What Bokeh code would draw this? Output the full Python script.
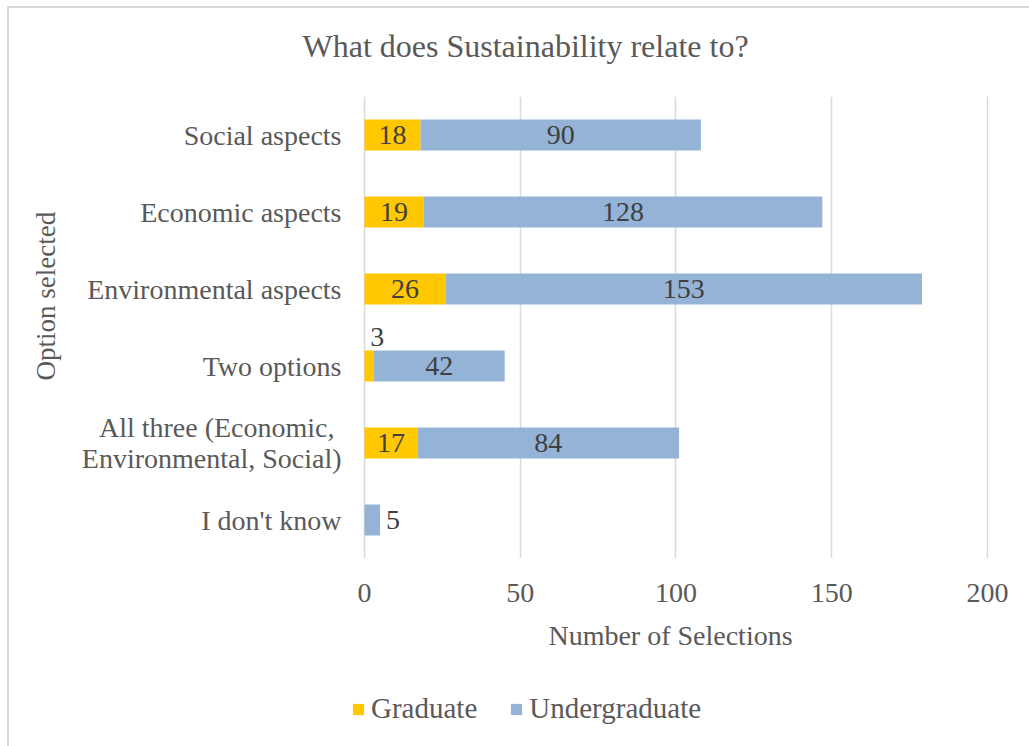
from bokeh.core.properties import value
from bokeh.embed import file_html
from bokeh.layouts import column
from bokeh.models import ColumnDataSource, FactorRange, Legend, Title
from bokeh.plotting import figure
from bokeh.resources import INLINE

# Survey answers, listed top to bottom as shown
categories = [
    "Social aspects",
    "Economic aspects",
    "Environmental aspects",
    "Two options",
    "All three (Economic, \nEnvironmental, Social)",
    "I don't know",
]
graduate = [18, 19, 26, 3, 17, 0]
undergraduate = [90, 128, 153, 42, 84, 5]
series = ["Graduate", "Undergraduate"]
colors = ["#FFC800", "#95B3D7"]
x_ticks = [0, 50, 100, 150, 200]

FONT = "Liberation Serif"
GREY = "#595959"
PX_PER_UNIT = 623 / 200  # horizontal scale of the plot area

source = ColumnDataSource(dict(
    cat=categories,
    Graduate=graduate,
    Undergraduate=undergraduate,
))

# the plot area starts a little left of zero so the legend below can line up with it
p = figure(
    width=1020, height=670,
    y_range=FactorRange(factors=list(reversed(categories)), range_padding=0),
    x_range=(-12 / PX_PER_UNIT, 200.35),
    output_backend="svg", toolbar_location=None,
    min_border_left=343, min_border_right=41,
    min_border_top=88, min_border_bottom=120,
)
p.outline_line_color = None
p.background_fill_color = "white"
p.border_fill_color = "white"

# empty band between the plot area and the title
p.add_layout(Title(text=" ", text_font_size="28px", standoff=0), "above")

# chart title
p.title.text = "What does Sustainability relate to?"
p.title.text_font = FONT
p.title.text_font_size = "32px"
p.title.text_font_style = "normal"
p.title.text_color = GREY
p.title.align = "left"
p.title.offset = -50
p.title.standoff = 0

p.hbar_stack(
    series, y="cat", height=0.4, color=colors, line_color=None,
    source=source,
)

# grid
p.ygrid.grid_line_color = None
p.xgrid.grid_line_color = "#D9D9D9"
p.xgrid.grid_line_width = 1.5
p.xgrid.ticker = x_ticks

# x axis
p.xaxis.ticker = x_ticks
p.xaxis.axis_line_color = None
p.xaxis.major_tick_line_color = None
p.xaxis.minor_tick_line_color = None
p.xaxis.major_tick_out = 0
p.xaxis.major_label_standoff = 25
p.xaxis.major_label_text_font = FONT
p.xaxis.major_label_text_font_size = "28px"
p.xaxis.major_label_text_color = GREY
p.xaxis.axis_label = "Number of Selections"
p.xaxis.axis_label_text_font = FONT
p.xaxis.axis_label_text_font_size = "28px"
p.xaxis.axis_label_text_font_style = "normal"
p.xaxis.axis_label_text_color = GREY
p.xaxis.axis_label_standoff = 15

# y axis
p.yaxis.axis_line_color = None
p.yaxis.major_tick_line_color = None
p.yaxis.major_tick_out = 0
p.yaxis.major_label_standoff = 11
p.yaxis.major_label_text_font = FONT
p.yaxis.major_label_text_font_size = "28px"
p.yaxis.major_label_text_color = GREY
p.yaxis.major_label_text_line_height = 0.98

# y axis title, set a little above the centre of the plot area
p.add_layout(Title(
    text="Option selected", align="left", offset=178, standoff=36,
    text_font=FONT, text_font_size="27px", text_font_style="normal",
    text_color=GREY,
), "left")

# value labels on the bars
lab_x, lab_y, lab_t, lab_dx, lab_dy, lab_align = [], [], [], [], [], []
for cat, g, u in zip(categories, graduate, undergraduate):
    for start, val in ((0, g), (g, u)):
        if val == 0:
            continue
        width_px = val * PX_PER_UNIT
        if width_px >= 30:
            lab_x.append(start + val / 2); lab_dx.append(0); lab_dy.append(0); lab_align.append("center")
        elif start == 0 and u > 0 and g > 0:
            lab_x.append(start + val / 2); lab_dx.append(8); lab_dy.append(-29); lab_align.append("center")
        else:
            lab_x.append(start + val); lab_dx.append(6); lab_dy.append(0); lab_align.append("left")
        lab_y.append(cat)
        lab_t.append(str(val))

lab_src = ColumnDataSource(dict(x=lab_x, y=lab_y, t=lab_t, dx=lab_dx, dy=lab_dy, al=lab_align))
p.text(
    x="x", y="y", text="t", x_offset="dx", y_offset="dy", text_align="al",
    text_baseline="middle", text_font=value(FONT), text_font_size="28px",
    text_color="#404040", source=lab_src,
)

# legend strip under the chart; its swatch bars sit outside the visible range
lg = figure(
    width=1020, height=68, x_range=(0, 1), y_range=(0, 1),
    output_backend="svg", toolbar_location=None,
    x_axis_location=None, y_axis_location=None,
    min_border=0,
)
lg.outline_line_color = None
lg.grid.grid_line_color = None
swatches = [
    lg.hbar(y=[-5], right=[1], height=0.5, color=c, line_color=None)
    for c in colors
]
legend = Legend(
    items=[(name, [r]) for name, r in zip(series, swatches)],
    orientation="horizontal", location=(-1, 21),
    glyph_width=14, glyph_height=14, label_standoff=6, spacing=32,
    padding=0, margin=0, border_line_color=None, background_fill_alpha=0,
    label_text_font=FONT, label_text_font_size="29px", label_text_color=GREY,
)
lg.add_layout(legend, "center")

page = column(p, lg, spacing=0)
page.styles = {
    "margin-left": "7px", "margin-top": "6px",
    "border-left": "2px solid #D9D9D9", "border-top": "2px solid #D9D9D9",
}

open("out.html", "w").write(file_html(page, INLINE))
